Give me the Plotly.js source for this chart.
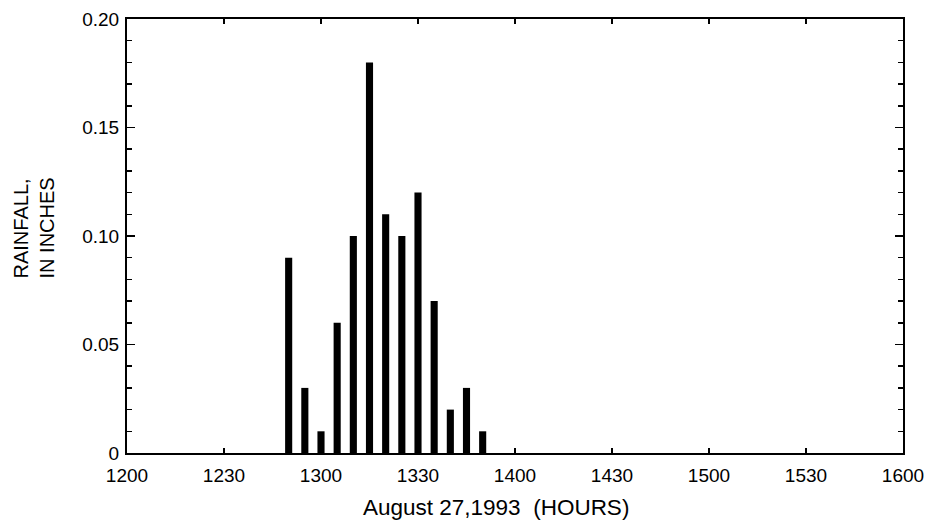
<!DOCTYPE html>
<html>
<head>
<meta charset="utf-8">
<script src="https://cdn.plot.ly/plotly-3.0.1.min.js"></script>
<style>html,body{margin:0;padding:0;background:#fff;}#chart{width:928px;height:528px;}</style>
</head>
<body>
<div id="chart"></div>
<script>
// Time of each 5-minute rainfall reading, August 27, 1993
const times = ["12:50","12:55","13:00","13:05","13:10","13:15","13:20","13:25","13:30","13:35","13:40","13:45","13:50"];
// Rainfall, in inches
const rainfall = [0.09, 0.03, 0.01, 0.06, 0.10, 0.18, 0.11, 0.10, 0.12, 0.07, 0.02, 0.03, 0.01];
const yTickVals = [0, 0.05, 0.10, 0.15, 0.20];
const yTickText = ["0", "0.05", "0.10", "0.15", "0.20"];
const xTitle = "August 27,1993\u00A0\u00A0(HOURS)";
const yTitle = "RAINFALL,<br>IN INCHES";
const day = "1993-08-27 ";

const xs = times.map(t => day + t);
const fam = "Liberation Sans, Arial, Helvetica, sans-serif";
const f = s => ({family: fam, size: s, color: "#000"});

const trace = {
  type: "bar",
  x: xs,
  y: rainfall,
  width: 132000,
  marker: {color: "#000", line: {width: 0}},
  hoverinfo: "x+y"
};

const layout = {
  width: 928, height: 528,
  margin: {l: 127, r: 25, t: 19, b: 75, pad: 0},
  paper_bgcolor: "#fff", plot_bgcolor: "#fff",
  showlegend: false,
  font: f(19),
  xaxis: {
    type: "date",
    range: [day + "12:00", day + "16:00"],
    tickformat: "%H%M",
    dtick: 1800000,
    tick0: day + "12:00",
    ticks: "inside", ticklen: 5, tickwidth: 1.5, tickcolor: "#000",
    ticklabelstandoff: 4,
    showline: true, linecolor: "#000", linewidth: 2, mirror: "ticks",
    showgrid: false, zeroline: false,
    tickfont: f(19)
  },
  yaxis: {
    range: [0, 0.2],
    tickvals: yTickVals, ticktext: yTickText,
    ticks: "inside", ticklen: 8, tickwidth: 1.5, tickcolor: "#000",
    ticklabelstandoff: 2,
    minor: {dtick: 0.01, tick0: 0, ticks: "inside", ticklen: 5, tickwidth: 1.5, tickcolor: "#000", showgrid: false},
    showline: true, linecolor: "#000", linewidth: 2, mirror: "ticks",
    showgrid: false, zeroline: false,
    tickfont: f(19)
  },
  annotations: [
    {text: xTitle, xref: "paper", yref: "paper", x: 0.4755, y: 0, xanchor: "center", yanchor: "top",
     yshift: -40, showarrow: false, font: f(22.5)},
    {text: yTitle, xref: "paper", yref: "paper", x: -0.153, y: 0.397, xanchor: "left", yanchor: "bottom",
     textangle: -90, align: "left", showarrow: false, font: f(20)}
  ]
};

Plotly.newPlot("chart", [trace], layout, {staticPlot: true, displayModeBar: false});
</script>
</body>
</html>
